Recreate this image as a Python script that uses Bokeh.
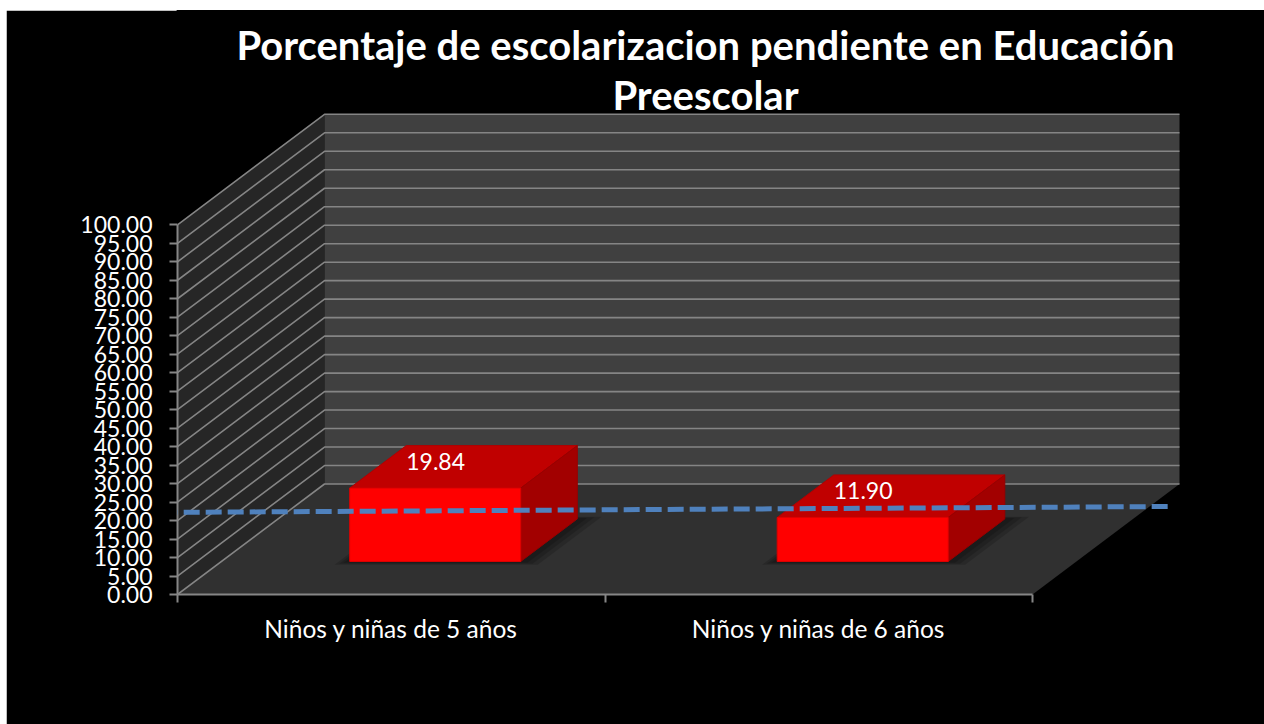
from bokeh.plotting import figure
from bokeh.models import Range1d, FixedTicker, PrintfTickFormatter, Arrow
from bokeh.embed import file_html
from bokeh.resources import INLINE
from bokeh.core.properties import value

# ---------------- data ----------------
categories = ["Niños y niñas de 5 años", "Niños y niñas de 6 años"]
values = [19.84, 11.90]
value_labels = ["19.84", "11.90"]
y_ticks = [0, 5, 10, 15, 20, 25, 30, 35, 40, 45, 50, 55, 60, 65, 70, 75, 80, 85, 90, 95, 100]
title_lines = ["Porcentaje de escolarizacion pendiente en Educación", "Preescolar"]
# drawn reference line (dashed blue), in category / value units
ref_line_x = [-0.037, 2.318]
ref_line_y = [22.2, 23.8]

# ---------------- layout (page pixels) ----------------
ORIG_X, ORIG_Y = 6, 10          # where the black chart area starts on the page
PAGE_W, PAGE_H = 1264, 724
W, H = PAGE_W - ORIG_X, PAGE_H - ORIG_Y
X0PX, Y0PX = 177, 594           # origin of the front plane
PX_PER_CAT = 427.5
PX_PER_VAL = 3.697
DEPTH_PX_X, DEPTH_PX_Y = 147, 110.5
FRAME_L, FRAME_R, FRAME_T, FRAME_B = X0PX, PAGE_W, ORIG_Y, Y0PX

DX = DEPTH_PX_X / PX_PER_CAT
DY = DEPTH_PX_Y / PX_PER_VAL
N = len(categories)
VMAX = y_ticks[-1]

BAR_W = 0.4
D0, D1 = 0.299, 0.684
LABEL_D = 0.54


def proj(x, v, d):
    return x + d * DX, v + d * DY


def px2x(px):
    return (px - X0PX) / PX_PER_CAT


def px2y(py):
    return (Y0PX - py) / PX_PER_VAL


def poly(pts):
    xs, ys = zip(*[proj(*p) for p in pts])
    return list(xs), list(ys)


p = figure(
    width=W, height=H, margin=(ORIG_Y, 0, 0, ORIG_X),
    x_range=Range1d(px2x(FRAME_L), px2x(FRAME_R)),
    y_range=Range1d(px2y(FRAME_B), px2y(FRAME_T)),
    min_border_left=FRAME_L - ORIG_X,
    min_border_right=PAGE_W - FRAME_R,
    min_border_top=FRAME_T - ORIG_Y,
    min_border_bottom=PAGE_H - FRAME_B,
    output_backend="svg", toolbar_location=None, title=None,
    background_fill_color="#000000", border_fill_color="#000000",
)
# black outline hides the anti-aliasing seam between frame and border
p.outline_line_color = "#000000"
p.outline_line_width = 2
p.xgrid.visible = False
p.ygrid.visible = False

# walls and floor
lx, ly = poly([(0, 0, 0), (0, VMAX, 0), (0, VMAX, 1), (0, 0, 1)])
p.patch(lx, ly, fill_color="#262626", line_color=None)
bx, by = poly([(0, 0, 1), (N, 0, 1), (N, VMAX, 1), (0, VMAX, 1)])
p.patch(bx, by, fill_color="#404040", line_color=None)
fx, fy = poly([(0, 0, 0), (N, 0, 0), (N, 0, 1), (0, 0, 1)])
p.patch(fx, fy, fill_color="#303030", line_color=None)

# gridlines on side wall and back wall
gxs, gys = [], []
for t in y_ticks:
    xs, ys = poly([(0, t, 0), (0, t, 1), (N, t, 1)])
    gxs.append(xs)
    gys.append(ys)
p.multi_line(gxs, gys, line_color="#858585", line_width=1.6)

# bars
sh_x, sh_y = [], []
fr_x, fr_y, tp_x, tp_y, sd_x, sd_y = [], [], [], [], [], []
for i, v in enumerate(values):
    x0 = i + 0.5 - BAR_W / 2
    x1 = i + 0.5 + BAR_W / 2
    for k in (0.05, 0.035, 0.02):
        xs, ys = poly([(x0 - k * 0.5, 0, D0 - k * 0.6), (x1 + k, 0, D0 - k * 0.6),
                       (x1 + k, 0, D1 + k * 0.4), (x0 - k * 0.5, 0, D1 + k * 0.4)])
        sh_x.append(xs)
        sh_y.append(ys)
    xs, ys = poly([(x0, 0, D0), (x1, 0, D0), (x1, v, D0), (x0, v, D0)])
    fr_x.append(xs); fr_y.append(ys)
    xs, ys = poly([(x0, v, D0), (x1, v, D0), (x1, v, D1), (x0, v, D1)])
    tp_x.append(xs); tp_y.append(ys)
    xs, ys = poly([(x1, 0, D0), (x1, v, D0), (x1, v, D1), (x1, 0, D1)])
    sd_x.append(xs); sd_y.append(ys)

p.patches(sh_x, sh_y, fill_color="black", fill_alpha=0.16, line_color=None)
p.patches(tp_x, tp_y, fill_color="#C00000", line_color="#B00000", line_width=1)
p.patches(sd_x, sd_y, fill_color="#A20000", line_color="#980000", line_width=1)
p.patches(fr_x, fr_y, fill_color="#FF0000", line_color="#E00000", line_width=1)

# value labels
lab_x = [proj(i + 0.5, v, LABEL_D)[0] for i, v in enumerate(values)]
lab_y = [proj(i + 0.5, v, LABEL_D)[1] for i, v in enumerate(values)]
p.text(lab_x, lab_y, text=value_labels, text_font=value("Lato"), text_font_size="23px",
       text_color="white", text_align="center", text_baseline="middle", x_offset=-35)

# dashed reference line
p.add_layout(Arrow(x_start=ref_line_x[0], y_start=ref_line_y[0],
                   x_end=ref_line_x[1], y_end=ref_line_y[1], end=None,
                   line_color="#4F81BD", line_width=5, line_dash="16 6"))

# title
tx = [px2x(705), px2x(705)]
ty = [px2y(44), px2y(94)]
p.text(tx, ty, text=title_lines, text_font=value("Lato"), text_font_size="40px",
       text_font_style="bold", text_color="white", text_align="center", text_baseline="middle")

# y axis
ya = p.yaxis[0]
ya.bounds = (0, VMAX)
ya.ticker = FixedTicker(ticks=y_ticks)
ya.formatter = PrintfTickFormatter(format="%.2f")
ya.axis_line_color = "#868686"
ya.axis_line_width = 2
ya.major_tick_line_color = "#868686"
ya.major_tick_line_width = 2
ya.major_tick_out = 8
ya.major_tick_in = 0
ya.minor_tick_line_color = None
ya.major_label_text_color = "white"
ya.major_label_text_font = "Lato"
ya.major_label_text_font_size = "23px"
ya.major_label_standoff = 17

# x axis
xa = p.xaxis[0]
xa.bounds = (0, N)
xa.ticker = FixedTicker(ticks=[i + 0.5 for i in range(N)], minor_ticks=list(range(N + 1)))
xa.major_label_overrides = {i + 0.5: c for i, c in enumerate(categories)}
xa.axis_line_color = "#868686"
xa.axis_line_width = 2
xa.major_tick_line_color = None
xa.major_tick_out = 0
xa.major_tick_in = 0
xa.minor_tick_line_color = "#868686"
xa.minor_tick_line_width = 2
xa.minor_tick_out = 8
xa.minor_tick_in = 0
xa.major_label_text_color = "white"
xa.major_label_text_font = "Lato"
xa.major_label_text_font_size = "24.5px"
xa.major_label_standoff = 11

open("out.html", "w").write(file_html(p, INLINE))
